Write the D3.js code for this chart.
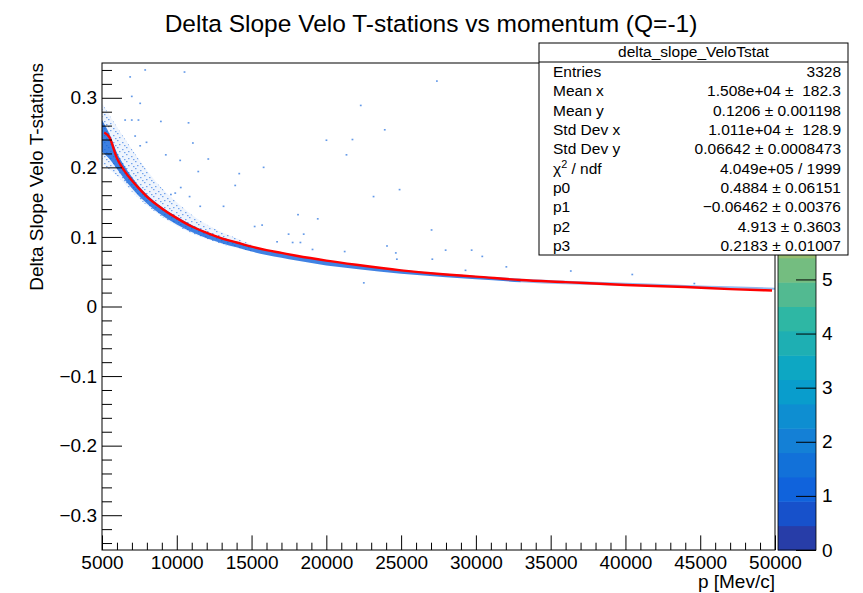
<!DOCTYPE html>
<html>
<head>
<meta charset="utf-8">
<script src="https://cdn.jsdelivr.net/npm/d3@7"></script>
<style>
  body { margin: 0; background: #fff; }
  svg text { font-family: "Liberation Sans", Arial, Helvetica, sans-serif; fill: #000; }
</style>
</head>
<body>
<svg id="chart" width="863" height="593"></svg>
<script>
// ---- data -------------------------------------------------------------
// fitted curve (p in MeV/c, delta slope)
const fitP = [5150, 5500, 6000, 6500, 7000, 7500, 8000, 9000, 10000, 11000, 12000, 13000, 14000,
              15000, 16000, 17000, 18000, 20000, 22000, 25000, 28000, 30000, 33000, 36000, 40000,
              44000, 47000, 49800];
const fitY = [0.250, 0.243, 0.213, 0.195, 0.181, 0.169, 0.158, 0.141, 0.127, 0.115, 0.106, 0.098, 0.092,
              0.086, 0.081, 0.077, 0.073, 0.066, 0.060, 0.052, 0.046, 0.043, 0.038, 0.035, 0.031,
              0.028, 0.025, 0.023];

// densely filled cells: lower / upper edge of the populated band
const bandP  = [5000, 5500, 6000, 6500, 7000, 7500, 8000, 9000, 10000, 11000, 12000, 13000, 14000,
                15000, 16000, 17000, 18000, 20000, 22000, 25000, 28000, 30000, 33000];
const bandLo = [0.222, 0.212, 0.198, 0.183, 0.170, 0.158, 0.148, 0.131, 0.118, 0.107, 0.098, 0.091, 0.085,
                0.079, 0.074, 0.070, 0.066, 0.059, 0.054, 0.047, 0.042, 0.039, 0.035];
const bandHi = [0.268, 0.248, 0.221, 0.202, 0.186, 0.172, 0.161, 0.143, 0.129, 0.117, 0.107, 0.099, 0.093,
                0.087, 0.081, 0.077, 0.073, 0.066, 0.060, 0.053, 0.047, 0.044, 0.040];

// sparser high-momentum part of the band
const tailP  = [33000, 36000, 40000, 44000, 47000, 50000];
const tailLo = [0.035, 0.032, 0.030, 0.028, 0.026, 0.024];
const tailHi = [0.040, 0.037, 0.034, 0.031, 0.029, 0.027];

// loosely scattered cells above the band at low momentum
const haloP  = [5000, 6000, 7000, 8000, 9000, 10000, 11000, 12000, 13000, 14000, 15000];
const haloLo = [0.205, 0.188, 0.165, 0.145, 0.129, 0.116, 0.105, 0.097, 0.090, 0.084, 0.079];
const haloHi = [0.292, 0.258, 0.226, 0.196, 0.170, 0.150, 0.132, 0.118, 0.107, 0.098, 0.089];

// isolated cells away from the band: [p, delta slope]
const strayCells = [
  [7880, 0.340], [6875, 0.330], [10510, 0.337], [6985, 0.302], [7545, 0.292], [6540, 0.268],
  [6985, 0.268], [7430, 0.268], [8930, 0.266], [10780, 0.264], [7970, 0.236], [7210, 0.245],
  [9260, 0.218], [7545, 0.231], [11070, 0.235], [10220, 0.210], [12100, 0.212], [11430, 0.194],
  [15800, 0.200], [14170, 0.191], [13900, 0.174], [10260, 0.171], [9890, 0.163], [13120, 0.144],
  [10850, 0.158], [15200, 0.115], [16700, 0.093], [15700, 0.117], [9600, 0.161], [11560, 0.144],
  [27386, 0.324], [22295, 0.289], [23900, 0.254], [20000, 0.239], [21740, 0.240], [21340, 0.218],
  [24890, 0.168], [23150, 0.158], [18100, 0.132], [19420, 0.126], [17470, 0.104], [18480, 0.104],
  [17740, 0.092], [18260, 0.092], [19070, 0.082], [27030, 0.110], [24050, 0.087], [24640, 0.077],
  [21220, 0.079], [27970, 0.081], [29710, 0.081], [30420, 0.072], [32030, 0.057], [22500, 0.034],
  [24710, 0.068], [27080, 0.068], [29300, 0.052], [36340, 0.051], [40450, 0.046], [44600, 0.033]
];

// axis ticks
const xMajor = [5000, 10000, 15000, 20000, 25000, 30000, 35000, 40000, 45000, 50000];
const yMajor = [-0.3, -0.2, -0.1, 0, 0.1, 0.2, 0.3];
const zMajor = [0, 1, 2, 3, 4, 5];

// statistics box
const statTitle  = "delta_slope_VeloTstat";
const statLabels = ["Entries", "Mean x", "Mean y", "Std Dev x", "Std Dev y", "χ2 / ndf", "p0", "p1", "p2", "p3"];
const statValues = ["3328", "1.508e+04 \u00b1  182.3", "0.1206 \u00b1 0.001198", "1.011e+04 \u00b1  128.9",
                    "0.06642 \u00b1 0.0008473", "4.049e+05 / 1999", "0.4884 \u00b1 0.06151",
                    "\u22120.06462 \u00b1 0.00376", "4.913 \u00b1 0.3603", "0.2183 \u00b1 0.01007"];

// ---- layout -----------------------------------------------------------
const frame = { l: 102, r: 775, t: 63, b: 550 };
const svg = d3.select("#chart");

const x = d3.scaleLinear().domain([5000, 50000]).range([frame.l, frame.r]);
const y = d3.scaleLinear().domain([-0.35, 0.35]).range([frame.b, frame.t]);

// kBird colour palette, 20 contour levels from 0 to 9
const birdStops = {
  r: [0.2082, 0.0592, 0.0780, 0.0232, 0.1802, 0.5301, 0.8186, 0.9956, 0.9764],
  g: [0.1664, 0.3599, 0.5041, 0.6419, 0.7178, 0.7492, 0.7328, 0.7862, 0.9832],
  b: [0.5293, 0.8684, 0.8385, 0.7914, 0.6425, 0.4662, 0.3499, 0.1968, 0.0539]
};
function bird(t) {
  const s = t * 8, k = Math.min(7, Math.floor(s)), f = s - k;
  const c = ch => Math.round(255 * (birdStops[ch][k] + (birdStops[ch][k + 1] - birdStops[ch][k]) * f));
  return d3.rgb(c("r"), c("g"), c("b")).toString();
}
const nLevels = 20, zMax = 9;
const levelColor = i => bird(Math.floor((i + 0.99) * 255 / nLevels) / 254);
const cellColor = levelColor(2);   // colour of a single-entry cell

// ---- plot marks -------------------------------------------------------
const defs = svg.append("defs");
defs.append("clipPath").attr("id", "frameClip")
  .append("rect").attr("x", frame.l).attr("y", frame.t)
  .attr("width", frame.r - frame.l).attr("height", frame.b - frame.t);

// speckle texture for thinly populated regions
const speckle = defs.append("pattern").attr("id", "speckle")
  .attr("patternUnits", "userSpaceOnUse").attr("width", 9).attr("height", 7);
[[0, 0], [5, 2], [2, 4], [7, 5]].forEach(([sx, sy]) =>
  speckle.append("rect").attr("x", sx).attr("y", sy).attr("width", 1.5).attr("height", 1.2)
    .attr("fill", cellColor).attr("fill-opacity", 0.55));

const plot = svg.append("g").attr("clip-path", "url(#frameClip)");

const bandArea = (P, lo, hi) => d3.area()
  .x((d, i) => x(P[i])).y0((d, i) => y(lo[i])).y1((d, i) => y(hi[i]))
  .curve(d3.curveMonotoneX)(P);

plot.append("path").attr("d", bandArea(haloP, haloLo, haloHi))
  .attr("fill", cellColor).attr("fill-opacity", 0.07);
plot.append("path").attr("d", bandArea(haloP, haloLo, haloHi))
  .attr("fill", "url(#speckle)");
plot.append("path").attr("d", bandArea(tailP, tailLo, tailHi))
  .attr("fill", cellColor).attr("fill-opacity", 0.45);
plot.append("path").attr("d", bandArea(bandP, bandLo, bandHi))
  .attr("fill", cellColor).attr("fill-opacity", 0.8);

plot.selectAll("rect.cell").data(strayCells).join("rect")
  .attr("class", "cell")
  .attr("x", d => x(d[0]) - 0.8).attr("y", d => y(d[1]) - 0.8)
  .attr("width", 1.8).attr("height", 1.6)
  .attr("fill", cellColor).attr("fill-opacity", 0.65);

plot.append("path")
  .attr("d", d3.line().x((d, i) => x(fitP[i])).y((d, i) => y(fitY[i])).curve(d3.curveMonotoneX)(fitP))
  .attr("fill", "none").attr("stroke", "#ff0000").attr("stroke-width", 2.4);

// ---- frame & axes -----------------------------------------------------
svg.append("rect").attr("x", frame.l).attr("y", frame.t)
  .attr("width", frame.r - frame.l).attr("height", frame.b - frame.t)
  .attr("fill", "none").attr("stroke", "#000").attr("stroke-width", 1);

const fontAxis = 19;
const tickLen = { x: 14.6, y: 20 };

const xMinor = d3.range(5000, 50001, 1000).filter(v => v % 5000 !== 0);
svg.append("g").attr("transform", `translate(0,${frame.b})`)
  .call(d3.axisBottom(x).tickValues(xMinor).tickSize(-tickLen.x / 2).tickFormat(""))
  .call(g => g.select(".domain").remove());
svg.append("g").attr("transform", `translate(0,${frame.b})`)
  .call(d3.axisBottom(x).tickValues(xMajor).tickSize(-tickLen.x).tickPadding(6).tickFormat(d3.format("d")))
  .call(g => g.select(".domain").remove())
  .call(g => g.selectAll("text").attr("font-size", fontAxis).attr("font-family", null));

const yMinor = d3.range(-17, 18).filter(i => i % 5 !== 0).map(i => i * 0.02);
svg.append("g").attr("transform", `translate(${frame.l},0)`)
  .call(d3.axisLeft(y).tickValues(yMinor).tickSize(-tickLen.y / 2).tickFormat(""))
  .call(g => g.select(".domain").remove());
svg.append("g").attr("transform", `translate(${frame.l},0)`)
  .call(d3.axisLeft(y).tickValues(yMajor).tickSize(-tickLen.y).tickPadding(5)
    .tickFormat(d => d === 0 ? "0" : d3.format(".1f")(d)))
  .call(g => g.select(".domain").remove())
  .call(g => g.selectAll("text").attr("font-size", fontAxis).attr("font-family", null));

svg.selectAll(".tick line").attr("stroke", "#000");

// axis titles
svg.append("text").attr("x", frame.r).attr("y", 588)
  .attr("text-anchor", "end").attr("font-size", fontAxis).text("p [Mev/c]");
svg.append("text").attr("transform", `translate(43,${frame.t}) rotate(-90)`)
  .attr("text-anchor", "end").attr("font-size", fontAxis).text("Delta Slope Velo T-stations");

// ---- colour palette ---------------------------------------------------
const pal = { l: 778, r: 816 };
const z = d3.scaleLinear().domain([0, zMax]).range([frame.b, frame.t]);
svg.append("g").selectAll("rect").data(d3.range(nLevels)).join("rect")
  .attr("x", pal.l).attr("width", pal.r - pal.l)
  .attr("y", i => z((i + 1) * zMax / nLevels))
  .attr("height", i => z(i * zMax / nLevels) - z((i + 1) * zMax / nLevels) + 0.5)
  .attr("fill", i => levelColor(i));
svg.append("g").attr("transform", `translate(${pal.r},0)`)
  .call(d3.axisRight(z).tickValues(zMajor).tickSize(-20).tickPadding(6).tickFormat(d3.format("d")))
  .call(g => g.select(".domain").remove())
  .call(g => g.selectAll("text").attr("font-size", fontAxis).attr("font-family", null))
  .call(g => g.selectAll("line").attr("stroke", "#000"));
svg.append("rect").attr("x", pal.l).attr("y", frame.t)
  .attr("width", pal.r - pal.l).attr("height", frame.b - frame.t)
  .attr("fill", "none").attr("stroke", "#000").attr("stroke-width", 0.8);

// ---- statistics box ---------------------------------------------------
const box = { l: 539, r: 848, t: 43, head: 62, b: 255 };
const sb = svg.append("g");
sb.append("rect").attr("x", box.l).attr("y", box.t)
  .attr("width", box.r - box.l).attr("height", box.b - box.t)
  .attr("fill", "#fff").attr("stroke", "#000").attr("stroke-width", 1);
sb.append("line").attr("x1", box.l).attr("x2", box.r).attr("y1", box.head).attr("y2", box.head)
  .attr("stroke", "#000");
const statFont = 15.5;
sb.append("text").attr("x", (box.l + box.r) / 2).attr("y", box.head - 5)
  .attr("text-anchor", "middle").attr("font-size", statFont).text(statTitle);
const rowH = (box.b - box.head) / statLabels.length;
statLabels.forEach((lab, i) => {
  const yy = box.head + rowH * (i + 0.5) + 5.5;
  const t = sb.append("text").attr("x", box.l + 14).attr("y", yy).attr("font-size", statFont);
  if (lab.startsWith("χ2")) {
    t.append("tspan").text("χ");
    t.append("tspan").attr("font-size", statFont * 0.7).attr("dy", -6).text("2");
    t.append("tspan").attr("dy", 6).text(" / ndf");
  } else {
    t.text(lab);
  }
  sb.append("text").attr("x", box.r - 7).attr("y", yy).attr("text-anchor", "end")
    .attr("font-size", statFont).style("white-space", "pre").text(statValues[i]);
});

// ---- title ------------------------------------------------------------
svg.append("text").attr("x", 431).attr("y", 32).attr("text-anchor", "middle")
  .attr("font-size", 24.5).text("Delta Slope Velo T-stations vs momentum (Q=-1)");
</script>
</body>
</html>
